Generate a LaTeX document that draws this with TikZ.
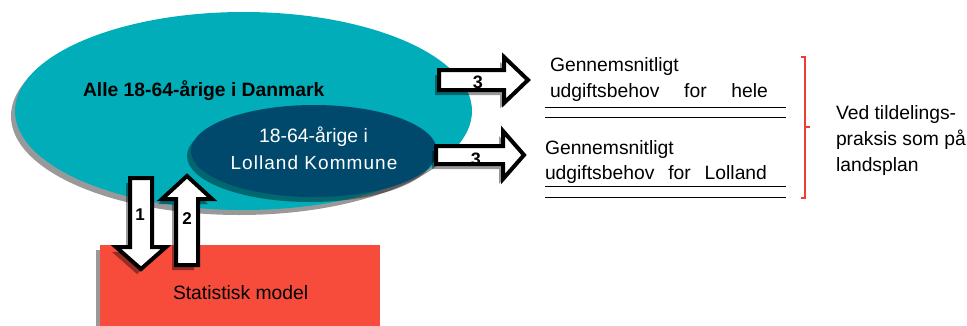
\documentclass[tikz,border=0pt]{standalone}
\usepackage{fontspec}
\setmainfont{Liberation Sans}
\usetikzlibrary{shapes.geometric,shadows}
\definecolor{tealbig}{RGB}{0,173,185}
\definecolor{navysmall}{RGB}{0,73,108}
\definecolor{redbox}{RGB}{247,75,60}
\definecolor{bracketred}{RGB}{240,60,50}
\tikzset{
  shadowed/.style={drop shadow={shadow xshift=-4pt,shadow yshift=-5pt,opacity=0.4,fill=black}},
  blockarrow/.style={fill=white,draw=black,line width=4pt,line join=miter,shadowed},
  txt/.style={inner sep=0pt,outer sep=0pt,font=\fontsize{19.3}{23}\selectfont},
  num/.style={inner sep=0pt,outer sep=0pt,font=\bfseries\fontsize{18}{20}\selectfont,anchor=base},
  rule/.style={line width=1.5pt,black}
}
\begin{document}
\begin{tikzpicture}[x=1pt,y=-1pt]
\useasboundingbox (0,0) rectangle (967,325);
% ellipses
\node[ellipse,fill=tealbig,minimum width=457pt,minimum height=198pt,inner sep=0pt,shadowed] (dk) at (243.5,111) {};
\node[ellipse,fill=navysmall,minimum width=246pt,minimum height=92pt,inner sep=0pt,shadowed] (ll) at (314,151) {};
% arrows 3
\filldraw[blockarrow] (439,70) -- (504,70) -- (504,57) -- (528,80) -- (504,103) -- (504,90) -- (439,90) -- cycle;
\filldraw[blockarrow] (436,146) -- (503,146) -- (503,131) -- (524,155) -- (503,179) -- (503,164) -- (436,164) -- cycle;
% red box
\node[rectangle,fill=redbox,anchor=north west,minimum width=280pt,minimum height=90pt,inner sep=0pt,shadowed] (sm) at (100,245) {};
% arrows 1 and 2
\filldraw[blockarrow] (130,178) -- (152,178) -- (152,247) -- (166,247) -- (141,269) -- (116,247) -- (130,247) -- cycle;
\filldraw[blockarrow] (176,265) -- (198,265) -- (198,199) -- (212,199) -- (187,176) -- (162,199) -- (176,199) -- cycle;
% texts in shapes
\node[txt,anchor=base west,font=\bfseries\fontsize{19.3}{23}\selectfont] (tdk) at (83,96) {Alle 18-64-årige i Danmark};
\node[txt,anchor=base,text=white,font=\fontsize{19.4}{23}\selectfont] (tll1) at (313.5,142.3) {18-64-årige i};
\node[txt,anchor=base,text=white,font=\fontsize{19}{23}\selectfont\addfontfeature{LetterSpace=5.5}] (tll2) at (314,169.3) {Lolland Kommune};
\node[txt,anchor=base west] (tsm) at (173,299) {Statistisk model};
\node[num,font=\bfseries\fontsize{17}{20}\selectfont] (n1) at (140,220) {1};
\node[num,font=\bfseries\fontsize{17}{20}\selectfont] (n2) at (187,224) {2};
\node[num] (n3a) at (478,88) {3};
\node[num] (n3b) at (476,165) {3};
% right texts
\node[txt,anchor=base west] (g1) at (550,71.5) {Gennemsnitligt};
\node[txt,anchor=base west] (u1) at (550,97.5) {\makebox[218pt][s]{udgiftsbehov for hele}};
\draw[rule] (545,107.5) -- (786,107.5);
\draw[rule] (545,117.3) -- (786,117.3);
\node[txt,anchor=base west] (g2) at (545,154) {Gennemsnitligt};
\node[txt,anchor=base west] (u2) at (545,179.5) {\makebox[222pt][s]{udgiftsbehov for Lolland}};
\draw[rule] (545,186.7) -- (786,186.7);
\draw[rule] (545,197.3) -- (786,197.3);
% bracket
\draw[bracketred,line width=1.3pt] (801,57) -- (805,57) -- (805,198) -- (801,198);
\draw[bracketred,line width=1.3pt] (805,127) -- (810,127);
\node[txt,anchor=base west] (v1) at (836,119) {Ved tildelings-};
\node[txt,anchor=base west] (v2) at (836,145) {praksis som på};
\node[txt,anchor=base west] (v3) at (836,171) {landsplan};
\end{tikzpicture}
\end{document}
